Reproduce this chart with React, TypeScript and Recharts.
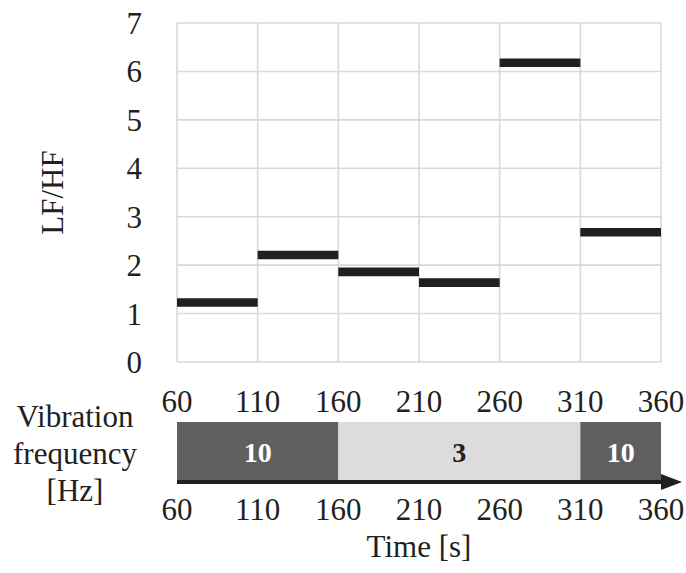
import React from "react";
import {
  ComposedChart,
  Line,
  Bar,
  XAxis,
  YAxis,
  CartesianGrid,
} from "recharts";

// Time window boundaries [s] and LF/HF ratio measured in each window
const timeEdges = [60, 110, 160, 210, 260, 310, 360];
const lfhfValues = [1.23, 2.21, 1.86, 1.64, 6.18, 2.68];
const yTicks = [0, 1, 2, 3, 4, 5, 6, 7];

// Vibration phases: start, end [s] and frequency [Hz]
const phaseStarts = [60, 160, 310];
const phaseEnds = [160, 310, 360];
const phaseHz = [10, 3, 10];

const FONT = "'Liberation Serif', 'Times New Roman', serif";
const INK = "#231f20";
const DARK = "#5f5f61";
const LIGHT = "#dcdcdd";

// One horizontal segment per window, separated by null points so they don't join
const segmentRows: { t: number; v: number | null }[] = [];
lfhfValues.forEach((v, i) => {
  segmentRows.push({ t: timeEdges[i], v });
  segmentRows.push({ t: timeEdges[i + 1], v });
  if (i < lfhfValues.length - 1) segmentRows.push({ t: timeEdges[i + 1], v: null });
});

// A single row holding each phase as a [start, end] range
const phaseRow: Record<string, any> = { row: "phase" };
phaseStarts.forEach((s, i) => {
  phaseRow[`p${i}`] = [s, phaseEnds[i]];
});
const phaseRows = [phaseRow];

const tickStyle = { fontFamily: FONT, fontSize: 31, fill: INK };

const LfhfLabel = (props: any) => {
  const vb = props.viewBox || {};
  const x = vb.x + 63;
  const y = vb.y + vb.height / 2;
  return (
    <text
      x={x}
      y={y}
      transform={`rotate(-90, ${x}, ${y})`}
      textAnchor="middle"
      fontFamily={FONT}
      fontSize={31}
      fill={INK}
    >
      LF/HF
    </text>
  );
};

const FrequencyLabel = (props: any) => {
  const vb = props.viewBox || {};
  const cx = vb.x + 75;
  const top = vb.y;
  const lines = ["Vibration", "frequency", "[Hz]"];
  return (
    <text textAnchor="middle" fontFamily={FONT} fontSize={31} fill={INK}>
      {lines.map((s, i) => (
        <tspan key={s} x={cx} y={top + 6 + i * 36.8}>
          {s}
        </tspan>
      ))}
    </text>
  );
};

const phaseLabel = (i: number) => (props: any) => {
  const { x, y, width, height } = props;
  return (
    <text
      x={x + width / 2}
      y={y + height / 2}
      dy="0.34em"
      textAnchor="middle"
      fontFamily={FONT}
      fontWeight="bold"
      fontSize={28}
      fill={phaseHz[i] === 10 ? "#ffffff" : INK}
    >
      {phaseHz[i]}
    </text>
  );
};

export default function App() {
  return (
    <div style={{ position: "absolute", left: 0, top: 0, width: 686, height: 573, background: "#fff" }}>
      <svg width={0} height={0} style={{ position: "absolute" }}>
        <defs>
          <marker
            id="timeArrow"
            markerUnits="userSpaceOnUse"
            markerWidth={21}
            markerHeight={16}
            refX={0}
            refY={8}
            orient="auto"
          >
            <path d="M0,0 L21,8 L0,16 Z" fill={INK} />
          </marker>
        </defs>
      </svg>

      <div style={{ position: "absolute", left: 0, top: 0 }}>
        <ComposedChart
          width={686}
          height={420}
          data={segmentRows}
          margin={{ top: 23, right: 25, bottom: 0, left: 0 }}
        >
          <CartesianGrid stroke="#d9d9d9" strokeWidth={1.6} />
          <XAxis
            type="number"
            dataKey="t"
            domain={[60, 360]}
            ticks={timeEdges}
            interval={0}
            height={58}
            axisLine={false}
            tickLine={false}
            tickSize={0}
            tickMargin={28}
            tick={tickStyle}
          />
          <YAxis
            type="number"
            domain={[0, 7]}
            ticks={yTicks}
            interval={0}
            width={177}
            axisLine={false}
            tickLine={false}
            tickSize={0}
            tickMargin={35}
            tick={tickStyle}
            label={LfhfLabel}
          />
          <Line
            dataKey="v"
            stroke={INK}
            strokeWidth={8.6}
            strokeLinecap="butt"
            dot={false}
            activeDot={false}
            connectNulls={false}
            isAnimationActive={false}
          />
        </ComposedChart>
      </div>

      <div style={{ position: "absolute", left: 0, top: 400 }}>
        <ComposedChart
          width={686}
          height={173}
          layout="vertical"
          data={phaseRows}
          barCategoryGap={0}
          barGap={-60}
          margin={{ top: 21, right: 25, bottom: 0, left: 0 }}
        >
          <XAxis
            type="number"
            domain={[60, 360]}
            ticks={timeEdges}
            interval={0}
            allowDataOverflow
            height={91}
            axisLine={{ stroke: INK, strokeWidth: 4, markerEnd: "url(#timeArrow)" }}
            tickLine={false}
            tickSize={0}
            tickMargin={16}
            tick={tickStyle}
            label={{
              value: "Time [s]",
              position: "insideBottom",
              offset: 16,
              fontFamily: FONT,
              fontSize: 31,
              fill: INK,
            }}
          />
          <YAxis
            type="category"
            dataKey="row"
            width={177}
            axisLine={false}
            tickLine={false}
            tick={false}
            label={FrequencyLabel}
          />
          {phaseStarts.map((s, i) => (
            <Bar
              key={s}
              dataKey={`p${i}`}
              barSize={60}
              fill={phaseHz[i] === 10 ? DARK : LIGHT}
              label={phaseLabel(i)}
              isAnimationActive={false}
            />
          ))}
        </ComposedChart>
      </div>
    </div>
  );
}
